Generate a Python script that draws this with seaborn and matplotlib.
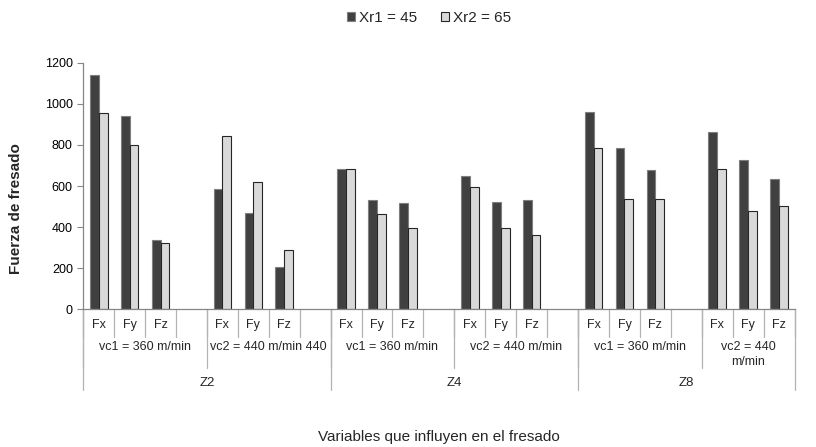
import matplotlib
matplotlib.use("Agg")
import matplotlib.pyplot as plt
import pandas as pd
import seaborn as sns

# data
zetas = ["Z2", "Z4", "Z8"]
speed_labels = [
    ["vc1 = 360 m/min", "vc2 = 440 m/min 440"],
    ["vc1 = 360 m/min", "vc2 = 440 m/min"],
    ["vc1 = 360 m/min", "vc2 = 440\nm/min"],
]
forces = ["Fx", "Fy", "Fz"]
series = ["Xr1 = 45", "Xr2 = 65"]
xr1 = [1142, 942, 338, 585, 468, 207,
       685, 533, 515, 647, 520, 530,
       962, 787, 678, 864, 727, 633]
xr2 = [957, 798, 325, 842, 618, 291,
       685, 466, 394, 595, 394, 360,
       787, 535, 537, 684, 480, 505]
colors = ["#404040", "#d9d9d9"]
edge_colors = ["#7f7f7f", "#262626"]

# build the category slots (blank slot after each speed group except the last)
slots = []
rows = []
i = 0
for zi, z in enumerate(zetas):
    for vi, vc in enumerate(speed_labels[zi]):
        for f in forces:
            key = f"{z}|{vi}|{f}"
            slots.append(key)
            rows.append({"slot": key, "serie": series[0], "valor": xr1[i]})
            rows.append({"slot": key, "serie": series[1], "valor": xr2[i]})
            i += 1
        if not (zi == len(zetas) - 1 and vi == len(speed_labels[zi]) - 1):
            slots.append(f"{z}|{vi}|blank")
df = pd.DataFrame(rows)

sns.set_theme(style="white")
plt.rcParams["font.family"] = ["Liberation Sans", "DejaVu Sans"]

fig = plt.figure(figsize=(8.16, 4.47), dpi=100)
ax = fig.add_axes([0.102, 0.308, 0.8717, 0.5517])

sns.barplot(data=df, x="slot", y="valor", hue="serie", order=slots, hue_order=series,
            palette=colors, width=0.57, gap=0, errorbar=None, linewidth=0.8, ax=ax)
for cont, ec in zip(ax.containers, edge_colors):
    for bar in cont:
        bar.set_edgecolor(ec)

ax.set_ylim(0, 1200)
ax.set_yticks(range(0, 1201, 200))
ax.set_xlim(-0.5, len(slots) - 0.5)
ax.set_xticks([])
ax.tick_params(axis="y", left=True, length=4, width=0.8, color="#868686", pad=3.5,
               labelsize=9, labelcolor="black")
for side in ["top", "right"]:
    ax.spines[side].set_visible(False)
for side in ["left", "bottom"]:
    ax.spines[side].set_color("#868686")
    ax.spines[side].set_linewidth(0.9)

ax.set_ylabel("Fuerza de fresado", fontsize=11, fontweight="bold")
ax.yaxis.set_label_coords(-0.0844, 0.41)
ax.set_xlabel("Variables que influyen en el fresado", fontsize=11)
ax.xaxis.set_label_coords(0.5, -0.49)

# multi-level category axis
trans = ax.get_xaxis_transform()
line_kw = dict(transform=trans, clip_on=False, color="#b3b3b3", lw=0.9)
depth1, depth2, depth3 = -0.112, -0.238, -0.327
for k in range(len(slots) + 1):
    ax.plot([k - 0.5, k - 0.5], [0, depth1], **line_kw)
for k, key in enumerate(slots):
    f = key.split("|")[2]
    if f != "blank":
        ax.text(k, -0.064, f, transform=trans, ha="center", va="center", fontsize=9)

pos = 0
for zi, z in enumerate(zetas):
    z_start = pos
    for vi, vc in enumerate(speed_labels[zi]):
        n = sum(1 for s in slots if s.startswith(f"{z}|{vi}|"))
        left, right = pos - 0.5, pos + n - 0.5
        ax.plot([left, left], [0, depth2], **line_kw)
        ax.text((left + right) / 2, -0.127, vc, transform=trans, ha="center", va="top",
                fontsize=9, linespacing=1.35)
        pos += n
    ax.plot([z_start - 0.5, z_start - 0.5], [0, depth3], **line_kw)
    ax.text((z_start + pos - 1) / 2, -0.299, z, transform=trans, ha="center", va="center",
            fontsize=9.5)
ax.plot([pos - 0.5, pos - 0.5], [0, depth3], **line_kw)

handles, labels = ax.get_legend_handles_labels()
ax.get_legend().remove()
for h, ec in zip(handles, edge_colors):
    h.set_edgecolor(ec)
fig.legend(handles, labels, loc="center", bbox_to_anchor=(0.526, 0.96), ncol=2,
           frameon=False, fontsize=11, handlelength=0.5, handleheight=0.5,
           handletextpad=0.25, columnspacing=1.6)

fig.savefig("out.png", dpi=100)
